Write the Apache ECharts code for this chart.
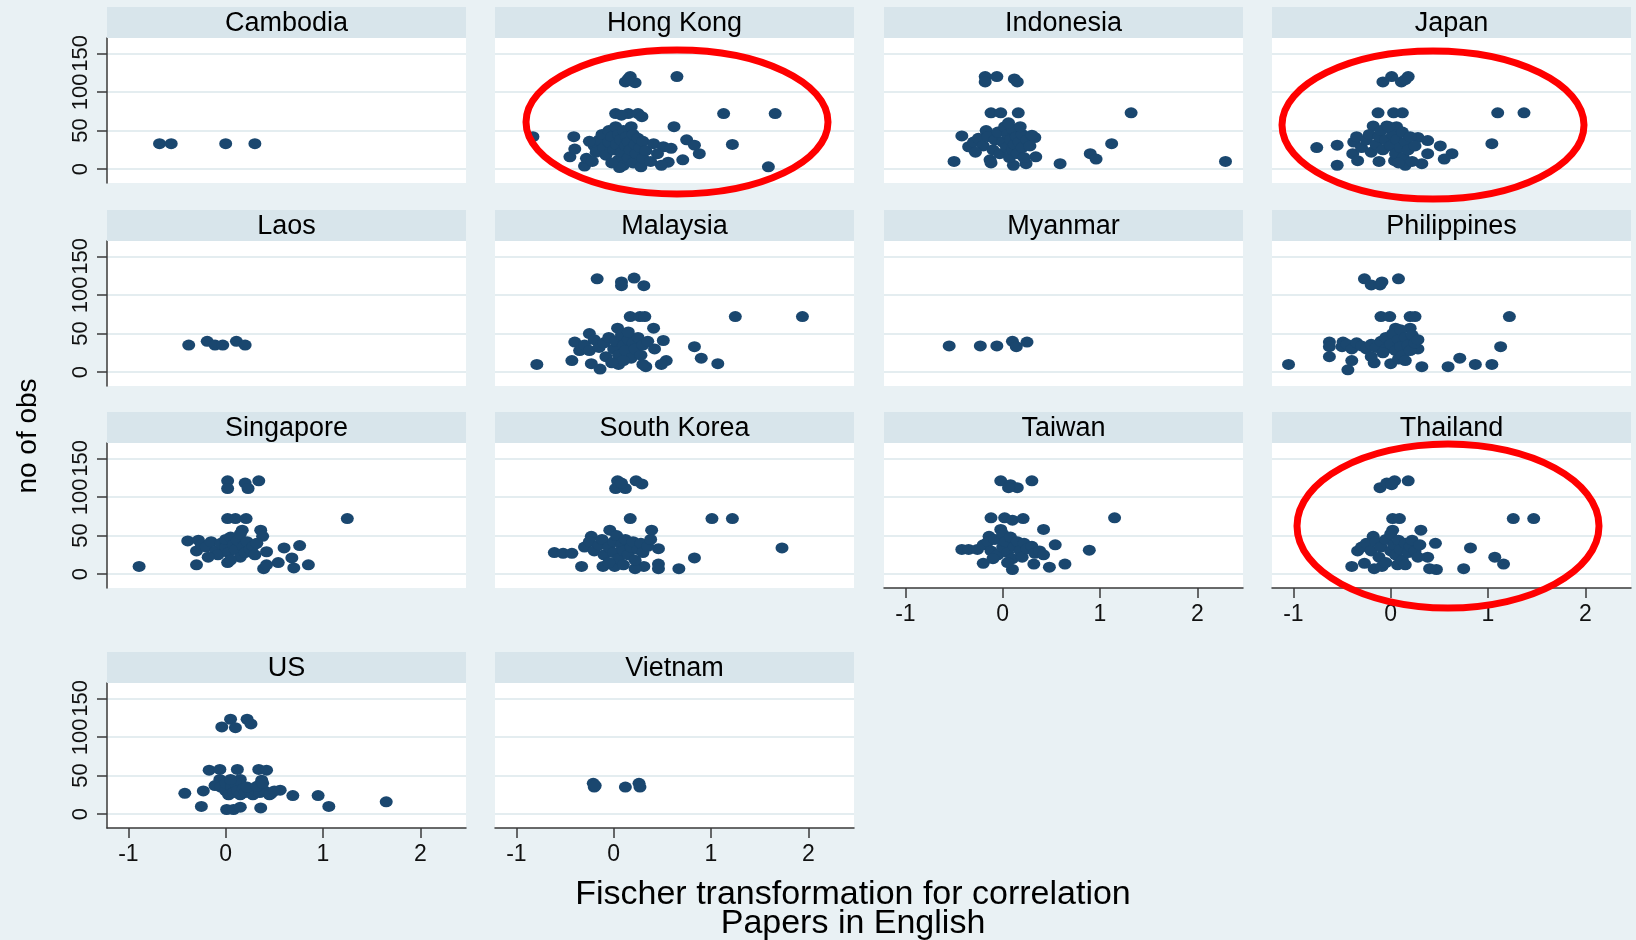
<!DOCTYPE html>
<html>
<head>
<meta charset="utf-8">
<script src="https://cdn.jsdelivr.net/npm/echarts@6.0.0/dist/echarts.min.js"></script>
<style>
  html, body { margin: 0; padding: 0; background: #e9f1f4; }
  #chart { width: 1636px; height: 940px; }
</style>
</head>
<body>
<div id="chart"></div>
<script>
// panel names, in the order they are laid out (4 per row)
const panelNames = ['Cambodia', 'Hong Kong', 'Indonesia', 'Japan',
  'Laos', 'Malaysia', 'Myanmar', 'Philippines',
  'Singapore', 'South Korea', 'Taiwan', 'Thailand',
  'US', 'Vietnam']

const xTicks = [-1, 0, 1, 2]
const yTicks = [0, 50, 100, 150]

// [fischer z, no of obs]
const cambodia = [[-0.68, 33], [-0.56, 33], [0, 33], [0.30, 33]]

const hongKong = [
  [0.17, 120], [0.12, 113], [0.22, 112], [0.15, 117], [0.65, 120],
  [0.02, 72], [0.15, 72], [0.25, 72], [0.29, 68], [1.13, 72], [1.66, 72], [0.08, 70],
  [0.62, 55], [-0.83, 42], [-0.41, 42],
  [-0.45, 16], [-0.40, 26], [-0.30, 4], [-0.28, 14], [-0.20, 30], [-0.18, 22], [-0.15, 38],
  [-0.12, 45], [-0.10, 28], [-0.08, 18], [-0.05, 35], [-0.05, 50], [-0.02, 42], [0, 25],
  [0.02, 55], [0.03, 32], [0.05, 12], [0.05, 45], [0.07, 38], [0.08, 22], [0.1, 50],
  [0.1, 5], [0.12, 30], [0.13, 42], [0.15, 15], [0.15, 35], [0.17, 25], [0.18, 55],
  [0.2, 45], [0.2, 8], [0.22, 32], [0.23, 20], [0.25, 40], [0.27, 28], [0.28, 3],
  [0.3, 14], [0.3, 36], [0.33, 24], [-0.25, 36], [-0.22, 10], [0.06, 2], [-0.02, 8],
  [0.41, 33], [0.51, 29], [0.59, 27], [0.75, 38], [0.83, 31], [0.88, 20], [1.22, 32],
  [0.71, 12], [0.56, 9], [0.49, 5], [1.59, 3], [0.38, 10], [0.45, 20]
]

const indonesia = [
  [-0.18, 120], [-0.18, 113], [-0.06, 120], [0.12, 117], [0.15, 113],
  [-0.12, 73], [-0.02, 73], [0.16, 73], [1.32, 73],
  [-0.42, 43], [-0.35, 29], [-0.17, 50], [0.33, 41], [0.34, 16], [0.24, 7], [0.11, 5],
  [-0.13, 12], [-0.50, 10], [0.59, 7], [0.9, 20], [0.96, 13], [1.12, 33], [2.29, 10],
  [-0.3, 35], [-0.25, 40], [-0.2, 30], [-0.15, 42], [-0.1, 25], [-0.08, 38], [-0.05, 48],
  [-0.03, 20], [0, 35], [0.02, 55], [0.04, 28], [0.05, 45], [0.07, 15], [0.08, 38],
  [0.1, 52], [0.1, 25], [0.12, 32], [0.14, 42], [0.15, 20], [0.17, 35], [0.2, 45],
  [0.2, 28], [0.22, 15], [0.25, 38], [0.28, 30], [0.3, 44], [-0.12, 8], [-0.28, 22],
  [0.06, 60], [0.18, 55]
]

const japan = [
  [-0.08, 113], [0.01, 120], [0.11, 113], [0.18, 120], [0.15, 116],
  [-0.13, 73], [0.03, 73], [0.12, 73], [1.10, 73], [1.37, 73],
  [-0.18, 56], [-0.04, 56], [0.06, 55], [1.04, 33],
  [-0.76, 28], [-0.55, 31], [-0.55, 5], [-0.39, 20], [-0.34, 11], [-0.12, 10],
  [0.38, 20], [0.51, 30], [0.63, 20], [0.55, 13], [0.32, 7], [0.15, 5], [0.04, 11],
  [0.28, 41], [0.38, 37],
  [-0.38, 35], [-0.35, 42], [-0.3, 28], [-0.25, 38], [-0.22, 45], [-0.2, 22], [-0.15, 32],
  [-0.12, 42], [-0.1, 50], [-0.08, 25], [-0.05, 38], [0, 30], [0.02, 45], [0.05, 20],
  [0.06, 38], [0.1, 28], [0.12, 48], [0.13, 15], [0.15, 35], [0.18, 25], [0.2, 42],
  [0.22, 10], [0.25, 30], [0.08, 8], [-0.02, 55]
]

const laos = [[-0.38, 35], [-0.19, 40], [-0.11, 35], [-0.03, 35], [0.11, 40], [0.2, 35]]

const malaysia = [
  [-0.17, 121], [0.08, 117], [0.08, 112], [0.21, 122], [0.31, 112],
  [0.17, 72], [0.27, 72], [0.32, 72], [1.25, 72], [1.94, 72],
  [0.04, 57], [0.41, 57],
  [-0.79, 10], [-0.43, 15], [-0.40, 39], [-0.25, 50], [-0.35, 28],
  [0.51, 41], [0.83, 33], [0.90, 18], [1.07, 11], [0.54, 15], [0.49, 10], [0.33, 7],
  [0.05, 10], [-0.14, 4], [-0.23, 11], [0.42, 30],
  [-0.3, 35], [-0.25, 28], [-0.2, 42], [-0.15, 32], [-0.1, 38], [-0.08, 20], [-0.05, 45],
  [0, 30], [0.02, 40], [0.05, 22], [0.08, 48], [0.1, 35], [0.12, 28], [0.15, 42],
  [0.18, 18], [0.2, 38], [0.22, 30], [0.25, 45], [0.28, 22], [0.3, 35], [0.35, 40],
  [0.1, 15], [-0.02, 12], [0.15, 52], [0.3, 10]
]

const myanmar = [[-0.55, 34], [-0.23, 34], [-0.06, 34], [0.10, 40], [0.14, 33], [0.25, 39]]

const philippines = [
  [-0.27, 121], [-0.20, 113], [-0.11, 113], [-0.09, 117], [0.08, 121],
  [-0.1, 72], [-0.01, 72], [0.2, 72], [0.25, 72], [1.22, 72],
  [0.05, 57], [0.2, 57],
  [-1.05, 10], [-0.63, 39], [-0.63, 33], [-0.63, 20], [-0.49, 39], [-0.40, 15], [-0.44, 3],
  [-0.17, 12], [0, 11], [0.08, 17],
  [0.32, 7], [0.59, 7], [0.71, 18], [0.87, 10], [1.04, 10], [1.13, 33], [0.28, 30],
  [-0.5, 33], [-0.45, 36], [-0.4, 30], [-0.35, 38], [-0.3, 34], [-0.25, 30], [-0.2, 36],
  [-0.15, 32], [-0.1, 40], [-0.05, 30], [-0.05, 45], [0, 36], [0.02, 50], [0.05, 28],
  [0.08, 42], [0.1, 55], [0.1, 33], [0.12, 22], [0.15, 45], [0.18, 35], [0.2, 28],
  [0.22, 48], [0.25, 38], [0.28, 42], [-0.2, 20], [-0.08, 25], [0.15, 15]
]

const singapore = [
  [0.02, 121], [0.02, 111], [0.2, 118], [0.23, 111], [0.34, 121],
  [0.02, 72], [0.1, 72], [0.21, 72], [1.25, 72],
  [0.17, 57], [0.36, 57],
  [-0.89, 10], [-0.39, 43], [-0.30, 12], [-0.28, 44],
  [0.6, 34], [0.76, 37], [0.68, 21], [0.85, 12], [0.70, 8], [0.54, 15], [0.39, 7],
  [0.42, 12], [0.42, 29], [0.02, 15], [0.38, 49],
  [-0.3, 30], [-0.25, 38], [-0.2, 35], [-0.15, 42], [-0.1, 30], [-0.08, 25], [-0.05, 40],
  [0, 35], [0, 45], [0.03, 28], [0.05, 48], [0.08, 38], [0.1, 32], [0.12, 44],
  [0.15, 22], [0.15, 52], [0.18, 36], [0.2, 28], [0.22, 42], [0.25, 32], [0.28, 36],
  [0.3, 25], [0.32, 40], [-0.18, 22], [0.05, 18]
]

const southKorea = [
  [0.04, 121], [0.02, 111], [0.12, 111], [0.23, 121], [0.29, 117], [0.08, 118],
  [0.17, 72], [1.01, 72], [1.22, 72],
  [-0.04, 57], [0.39, 57], [-0.23, 49],
  [-0.61, 28], [-0.52, 27], [-0.43, 27], [-0.33, 10],
  [1.73, 34], [0.83, 21], [0.67, 7], [0.46, 13], [0.46, 7], [0.31, 10], [0.22, 7],
  [0.46, 33], [0.01, 10], [-0.11, 10],
  [-0.3, 35], [-0.25, 42], [-0.2, 30], [-0.15, 38], [-0.12, 45], [-0.1, 25], [-0.05, 35],
  [0, 42], [0, 28], [0.03, 50], [0.05, 20], [0.08, 38], [0.1, 30], [0.12, 45],
  [0.15, 25], [0.18, 35], [0.2, 42], [0.22, 18], [0.25, 32], [0.28, 40], [0.3, 28],
  [0.35, 36], [0.38, 45], [-0.05, 15], [0.1, 12]
]

const taiwan = [
  [-0.02, 121], [0.08, 116], [0.15, 112], [0.30, 121], [0.06, 112],
  [-0.12, 73], [0.02, 73], [0.1, 70], [0.21, 72], [1.15, 73],
  [0.42, 58], [-0.14, 49], [-0.02, 58],
  [-0.42, 32], [-0.35, 32], [-0.26, 32],
  [0.89, 31], [0.54, 38], [0.64, 13], [0.48, 9], [0.32, 13], [0.1, 6], [-0.2, 14],
  [-0.2, 38], [-0.15, 42], [-0.12, 30], [-0.08, 45], [-0.05, 25], [0, 52], [0, 35],
  [0.03, 42], [0.05, 28], [0.08, 48], [0.1, 20], [0.12, 36], [0.15, 42], [0.18, 30],
  [0.2, 22], [0.22, 40], [0.25, 33], [0.3, 36], [0.33, 27], [0.38, 30], [0.42, 25],
  [-0.1, 20], [0.05, 15]
]

const thailand = [
  [-0.11, 112], [-0.04, 118], [0.04, 121], [0.18, 121], [0.01, 116],
  [0.02, 72], [0.09, 72], [1.26, 72], [1.47, 72],
  [0.31, 57], [0.02, 57], [-0.18, 49],
  [-0.40, 10], [-0.34, 30], [-0.27, 14], [-0.17, 7], [-0.09, 10], [0.07, 12],
  [0.46, 40], [0.82, 34], [1.07, 22], [1.16, 13], [0.75, 7], [0.47, 6], [0.4, 7], [0.38, 22],
  [-0.3, 35], [-0.25, 40], [-0.2, 30], [-0.15, 42], [-0.12, 22], [-0.1, 35], [-0.05, 45],
  [0, 30], [0, 52], [0.03, 38], [0.05, 25], [0.08, 44], [0.1, 32], [0.12, 18],
  [0.15, 40], [0.18, 28], [0.2, 36], [0.22, 44], [0.25, 30], [0.28, 22], [0.3, 38],
  [-0.05, 15], [0.15, 12]
]

const us = [
  [-0.04, 113], [0.05, 123], [0.1, 112], [0.22, 123], [0.26, 117],
  [-0.17, 57], [-0.06, 58], [0.12, 58], [0.34, 58], [0.42, 57],
  [0.37, 44], [0.15, 45], [-0.06, 45], [-0.11, 37],
  [-0.42, 27], [-0.23, 30], [-0.25, 10],
  [0.56, 31], [0.69, 24], [0.47, 27], [0.95, 24], [1.06, 10], [1.65, 16], [0.36, 8],
  [0.01, 6], [0.08, 6], [0.15, 9],
  [-0.05, 35], [0, 30], [0, 40], [0.03, 25], [0.06, 35], [0.08, 28], [0.1, 40],
  [0.12, 30], [0.15, 25], [0.18, 33], [0.2, 28], [0.25, 30], [0.28, 25], [0.3, 32],
  [0.35, 28], [0.4, 30], [0.45, 25], [0.5, 30], [0.05, 45], [0.22, 35], [0.32, 36], [0.38, 40]
]

const vietnam = [[-0.21, 40], [-0.2, 35], [-0.19, 37], [0.12, 35], [0.26, 40], [0.27, 35]]

const panelData = [cambodia, hongKong, indonesia, japan, laos, malaysia, myanmar,
  philippines, singapore, southKorea, taiwan, thailand, us, vietnam]

// layout (px)
const colLeft = [107, 495, 884, 1272]
const rowTop = [38, 241, 443, 683]
const plotW = 359
const plotH = 145
const stripH = 31

const font = '"Liberation Sans", Arial, sans-serif'
const navy = '#1a476f'
const axisColor = '#3a3a3a'

const chart = echarts.init(document.getElementById('chart'), null, { renderer: 'canvas' })

const grids = []
const xAxes = []
const yAxes = []
const series = []
const graphics = []

panelNames.forEach((name, i) => {
  const row = Math.floor(i / 4)
  const col = i % 4
  const left = colLeft[col]
  const top = rowTop[row]
  const showY = col === 0
  const showX = i >= 10

  grids.push({
    left: left, top: top, width: plotW, height: plotH,
    show: true, backgroundColor: '#ffffff', borderWidth: 0,
    outerBoundsMode: 'none'
  })

  xAxes.push({
    gridIndex: i, type: 'value', min: -1.22, max: 2.47,
    axisLine: { show: showX, onZero: false, lineStyle: { color: axisColor, width: 1.5 } },
    axisTick: { show: showX, customValues: xTicks, length: 10, lineStyle: { color: axisColor, width: 1.5 } },
    axisLabel: { show: showX, customValues: xTicks, margin: 15, fontSize: 23, color: '#111', fontFamily: font },
    splitLine: { show: false }
  })

  yAxes.push({
    gridIndex: i, type: 'value', min: -18, max: 170,
    axisLine: { show: showY, onZero: false, lineStyle: { color: axisColor, width: 1.5 } },
    axisTick: { show: showY, customValues: yTicks, length: 10, lineStyle: { color: axisColor, width: 1.5 } },
    axisLabel: { show: showY, customValues: yTicks, rotate: 90, margin: 15, fontSize: 22, color: '#111', fontFamily: font },
    splitLine: { show: true, lineStyle: { color: '#e4edf0', width: 2 } }
  })

  series.push({
    type: 'scatter', name: name, xAxisIndex: i, yAxisIndex: i,
    data: panelData[i],
    symbol: 'circle', symbolSize: [13, 11],
    itemStyle: { color: navy, opacity: 1 },
    silent: true
  })

  // header strip with the country name
  graphics.push({
    type: 'rect', silent: true, z: 10,
    shape: { x: left, y: top - stripH, width: plotW, height: stripH },
    style: { fill: '#d8e5eb' }
  })
  graphics.push({
    type: 'text', silent: true, z: 11,
    style: {
      text: name, x: left + plotW / 2, y: top - stripH / 2 + 1,
      textAlign: 'center', textVerticalAlign: 'middle',
      font: '27px ' + font, fill: '#000'
    }
  })
})

// axis titles
graphics.push({
  type: 'text', silent: true, rotation: Math.PI / 2, x: 28, y: 436,
  style: { text: 'no of obs', textAlign: 'center', textVerticalAlign: 'middle', font: '28px ' + font, fill: '#000' }
})
graphics.push({
  type: 'text', silent: true, x: 853, y: 895,
  style: { text: 'Fischer transformation for correlation', textAlign: 'center', textVerticalAlign: 'middle', font: '34px ' + font, fill: '#000' }
})
graphics.push({
  type: 'text', silent: true, x: 853, y: 924,
  style: { text: 'Papers in English', textAlign: 'center', textVerticalAlign: 'middle', font: '34px ' + font, fill: '#000' }
})

// red highlight ellipses (annotations)
const highlights = [[677, 122, 151, 72], [1433, 125, 151, 74], [1448, 526, 151, 82]]
highlights.forEach(h => {
  graphics.push({
    type: 'ellipse', silent: true, z: 20,
    shape: { cx: h[0], cy: h[1], rx: h[2], ry: h[3] },
    style: { fill: null, stroke: '#ff0000', lineWidth: 7 }
  })
})

chart.setOption({
  animation: false,
  backgroundColor: '#e9f1f4',
  grid: grids,
  xAxis: xAxes,
  yAxis: yAxes,
  series: series,
  graphic: { elements: graphics }
})
</script>
</body>
</html>
